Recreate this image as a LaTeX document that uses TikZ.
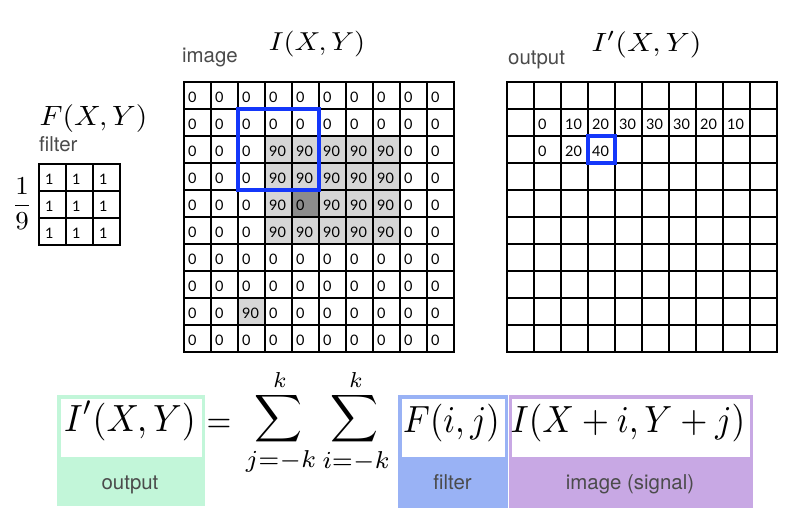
\documentclass[tikz,border=0pt]{standalone}
\usepackage{amsmath}
\usepackage{amssymb}
\usepackage[no-math]{fontspec}
\usepackage{graphicx}
\usepackage{tikz}
\usetikzlibrary{calc, math}

\newfontfamily\labelfont{TeX Gyre Heros}
\newfontfamily\cellfont{Lato}
\newcommand{\mathbox}[3]{\scalebox{#1}[#2]{$\displaystyle #3$}}
\newcommand{\bigsum}{\resizebox*{48bp}{53bp}{$\displaystyle\sum$}}

\definecolor{winblue}{RGB}{20,55,250}
\definecolor{cellgray}{RGB}{214,214,214}
\definecolor{cellgrayd}{RGB}{140,140,140}
\definecolor{outgreen}{RGB}{194,246,217}
\definecolor{filtblue}{RGB}{153,178,245}
\definecolor{imgpurple}{RGB}{200,168,228}
\definecolor{labgray}{RGB}{75,75,75}

\begin{document}
\begin{tikzpicture}[x=1bp, y=-1bp,
  gridline/.style={line width=2bp, black, line cap=rect},
  window/.style={draw=winblue, line width=4bp},
  num/.style={anchor=west, inner sep=0pt, font=\cellfont\fontsize{14.5}{16}\selectfont},
  lab/.style={anchor=base west, inner sep=0pt, text=labgray, font=\labelfont\fontsize{20.5}{22}\selectfont},
  tag/.style={anchor=base, inner sep=0pt, text=labgray, font=\labelfont\fontsize{20.5}{22}\selectfont},
  eq/.style={inner sep=0pt}]

\tikzmath{
  \cs = 27;
  \ix = 184; \iy = 82;
  \ox = 507; \oy = 82;
  \fx = 39; \fy = 164;
}

\useasboundingbox (0,0) rectangle (801,521);
\fill[white] (0,0) rectangle (801,521);

\fill[cellgray] (\ix+3*\cs,\iy+2*\cs) rectangle (\ix+8*\cs,\iy+6*\cs);
\fill[cellgrayd] (\ix+4*\cs,\iy+4*\cs) rectangle ++(\cs,\cs);
\fill[cellgray] (\ix+2*\cs,\iy+8*\cs) rectangle ++(\cs,\cs);

\foreach \k in {0,...,10}{
  \draw[gridline] (\ix+\k*\cs,\iy) -- ++(0,10*\cs);
  \draw[gridline] (\ix,\iy+\k*\cs) -- ++(10*\cs,0);
  \draw[gridline] (\ox+\k*\cs,\oy) -- ++(0,10*\cs);
  \draw[gridline] (\ox,\oy+\k*\cs) -- ++(10*\cs,0);
}
\foreach \k in {0,...,3}{
  \draw[gridline] (\fx+\k*\cs,\fy) -- ++(0,3*\cs);
  \draw[gridline] (\fx,\fy+\k*\cs) -- ++(3*\cs,0);
}

\foreach \row [count=\r from 0] in {
  {0,0,0,0,0,0,0,0,0,0},
  {0,0,0,0,0,0,0,0,0,0},
  {0,0,0,90,90,90,90,90,0,0},
  {0,0,0,90,90,90,90,90,0,0},
  {0,0,0,90,0,90,90,90,0,0},
  {0,0,0,90,90,90,90,90,0,0},
  {0,0,0,0,0,0,0,0,0,0},
  {0,0,0,0,0,0,0,0,0,0},
  {0,0,90,0,0,0,0,0,0,0},
  {0,0,0,0,0,0,0,0,0,0}}{
  \foreach \v [count=\c from 0] in \row
    \node[num] (img-\r-\c) at (\ix+\c*\cs+4,\iy+\r*\cs+15) {\v};
}

\foreach \r in {0,1,2}
  \foreach \c in {0,1,2}
    \node[num] (flt-\r-\c) at (\fx+\c*\cs+6,\fy+\r*\cs+15) {1};

\foreach \c/\v in {1/0,2/10,3/20,4/30,5/30,6/30,7/20,8/10}
  \node[num] (out-1-\c) at (\ox+\c*\cs+4,\oy+\cs+15) {\v};
\foreach \c/\v in {1/0,2/20,3/40}
  \node[num] (out-2-\c) at (\ox+\c*\cs+4,\oy+2*\cs+15) {\v};

\draw[window] (\ix+2*\cs,\iy+\cs) rectangle ++(3*\cs,3*\cs);
\draw[window] (\ox+3*\cs,\oy+2*\cs) rectangle ++(\cs,\cs);

\node[lab] (imglab) at (182,63) {image};
\node[eq, anchor=base] (imgtitle) at (317,51) {\mathbox{2.85}{2.6}{I(X,Y)}};
\node[lab] (outlab) at (508,65) {output};
\node[eq, anchor=base] (outtitle) at (646.5,52) {\mathbox{3.0}{2.65}{I'(X,Y)}};
\node[eq, anchor=base] (flttitle) at (93.5,126) {\mathbox{2.96}{2.8}{F(X,Y)}};
\node[lab] (fltlab) at (39,152) {filter};
\node[eq] (ninth) at (22,204) {\mathbox{2.7}{2.6}{\frac{1}{9}}};

\fill[outgreen] (57,395) rectangle (205,506);
\fill[white] (60.5,398.5) rectangle (201.5,457);
\fill[filtblue] (398,395) rectangle (507.5,508);
\fill[white] (401.5,398.5) rectangle (504.5,457);
\fill[imgpurple] (509,395) rectangle (753,508);
\fill[white] (512,398.5) rectangle (750,457);

\node[eq, anchor=base] (lhs) at (130,431) {\mathbox{3.6}{3.8}{I'(X,Y)}};
\node[eq, anchor=base] (equals) at (219,432) {\mathbox{3.2}{3.6}{=}};
\node[eq] (sumj) at (279,419) {\bigsum};
\node[eq] (sumi) at (355,419) {\bigsum};
\node[eq] (topj) at (280,380) {\mathbox{3.1}{3.1}{\scriptstyle k}};
\node[eq] (topi) at (356,380) {\mathbox{3.1}{3.1}{\scriptstyle k}};
\node[eq] (botj) at (281,461) {\mathbox{3.45}{3.5}{\scriptstyle j=-k}};
\node[eq] (boti) at (356,461) {\mathbox{3.45}{3.5}{\scriptstyle i=-k}};
\node[eq, anchor=base] (filt) at (451.5,432) {\mathbox{3.44}{3.8}{F(i,j)}};
\node[eq, anchor=base] (sig) at (628,432) {\mathbox{3.51}{3.8}{I(X+i,Y+j)}};

\node[tag] (outtag) at (130,489) {output};
\node[tag] (flttag) at (452.5,489) {filter};
\node[tag] (sigtag) at (630,489) {image (signal)};

\end{tikzpicture}
\end{document}
